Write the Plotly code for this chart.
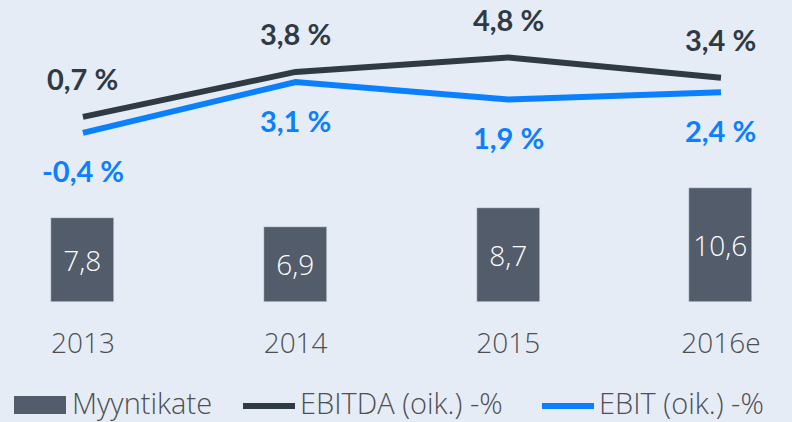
import plotly.graph_objects as go

years = ["2013", "2014", "2015", "2016e"]
myyntikate = [7.8, 6.9, 8.7, 10.6]
ebitda = [0.7, 3.8, 4.8, 3.4]
ebit = [-0.4, 3.1, 1.9, 2.4]
series_names = ["Myyntikate", "EBITDA (oik.) -%", "EBIT (oik.) -%"]

def fi(v, pct=False):
    s = f"{v:.1f}".replace(".", ",")
    return s + " %" if pct else s

BG = "#e6ecf6"
BAR = "#525c6b"
DARK = "#2f3a45"
BLUE = "#0a80ff"
TXT = "#4d4f54"

W, H = 792, 422
PLOT_H = 302  # plot area height in px (top margin 0)

fig = go.Figure()
fig.add_trace(go.Bar(
    x=years, y=myyntikate, name=series_names[0], marker_color=BAR, width=0.296,
    text=[fi(v) for v in myyntikate], textposition="inside", insidetextanchor="middle",
    textfont=dict(color="white", size=28, family="Open Sans", weight=300),
    yaxis="y", cliponaxis=False, showlegend=False,
))
fig.add_trace(go.Scatter(
    x=years, y=ebitda, name=series_names[1], mode="lines",
    line=dict(color=DARK, width=6), yaxis="y2", cliponaxis=False, showlegend=False,
))
fig.add_trace(go.Scatter(
    x=years, y=ebit, name=series_names[2], mode="lines",
    line=dict(color=BLUE, width=6), yaxis="y2", cliponaxis=False, showlegend=False,
))

for i, v in enumerate(ebitda):
    fig.add_annotation(x=i, y=v, xref="x", yref="y2", text=fi(v, True), showarrow=False, yshift=38,
                       font=dict(color=DARK, size=29, family="Lato", weight=700))
for i, v in enumerate(ebit):
    fig.add_annotation(x=i, y=v, xref="x", yref="y2", text=fi(v, True), showarrow=False, yshift=-38,
                       font=dict(color=BLUE, size=29, family="Lato", weight=700))

# custom legend (paper coordinates)
def px(x):
    return x / W

def py(y):
    return (PLOT_H - y) / PLOT_H

leg_font = dict(size=29, family="Open Sans", color=TXT, weight=300)
fig.add_shape(type="rect", xref="paper", yref="paper", x0=px(14), x1=px(66), y0=py(396), y1=py(414),
              fillcolor=BAR, line_width=0)
fig.add_shape(type="line", xref="paper", yref="paper", x0=px(243), x1=px(295), y0=py(406), y1=py(406),
              line=dict(color=DARK, width=6))
fig.add_shape(type="line", xref="paper", yref="paper", x0=px(542), x1=px(594), y0=py(406), y1=py(406),
              line=dict(color=BLUE, width=6))
for name, xl in zip(series_names, [71, 299, 598]):
    fig.add_annotation(xref="paper", yref="paper", x=px(xl), y=py(402), text=name, showarrow=False,
                       xanchor="left", yanchor="middle", borderpad=0, font=leg_font)

fig.update_layout(
    width=W, height=H,
    margin=dict(l=0, r=0, t=0, b=H - PLOT_H, autoexpand=False),
    paper_bgcolor=BG, plot_bgcolor=BG,
    showlegend=False,
    xaxis=dict(type="category", range=[-0.39, 3.334], showgrid=False, zeroline=False,
               showline=False, ticks="", ticklabelstandoff=22,
               tickfont=dict(size=28, family="Open Sans", color=TXT, weight=300)),
    yaxis=dict(range=[0, 27.96], visible=False, showgrid=False),
    yaxis2=dict(range=[-12.07, 8.76], overlaying="y", visible=False, showgrid=False),
    bargap=0,
)

fig.write_html("out.html", config={"displayModeBar": False},
               post_script="document.body.style.margin='0';")
